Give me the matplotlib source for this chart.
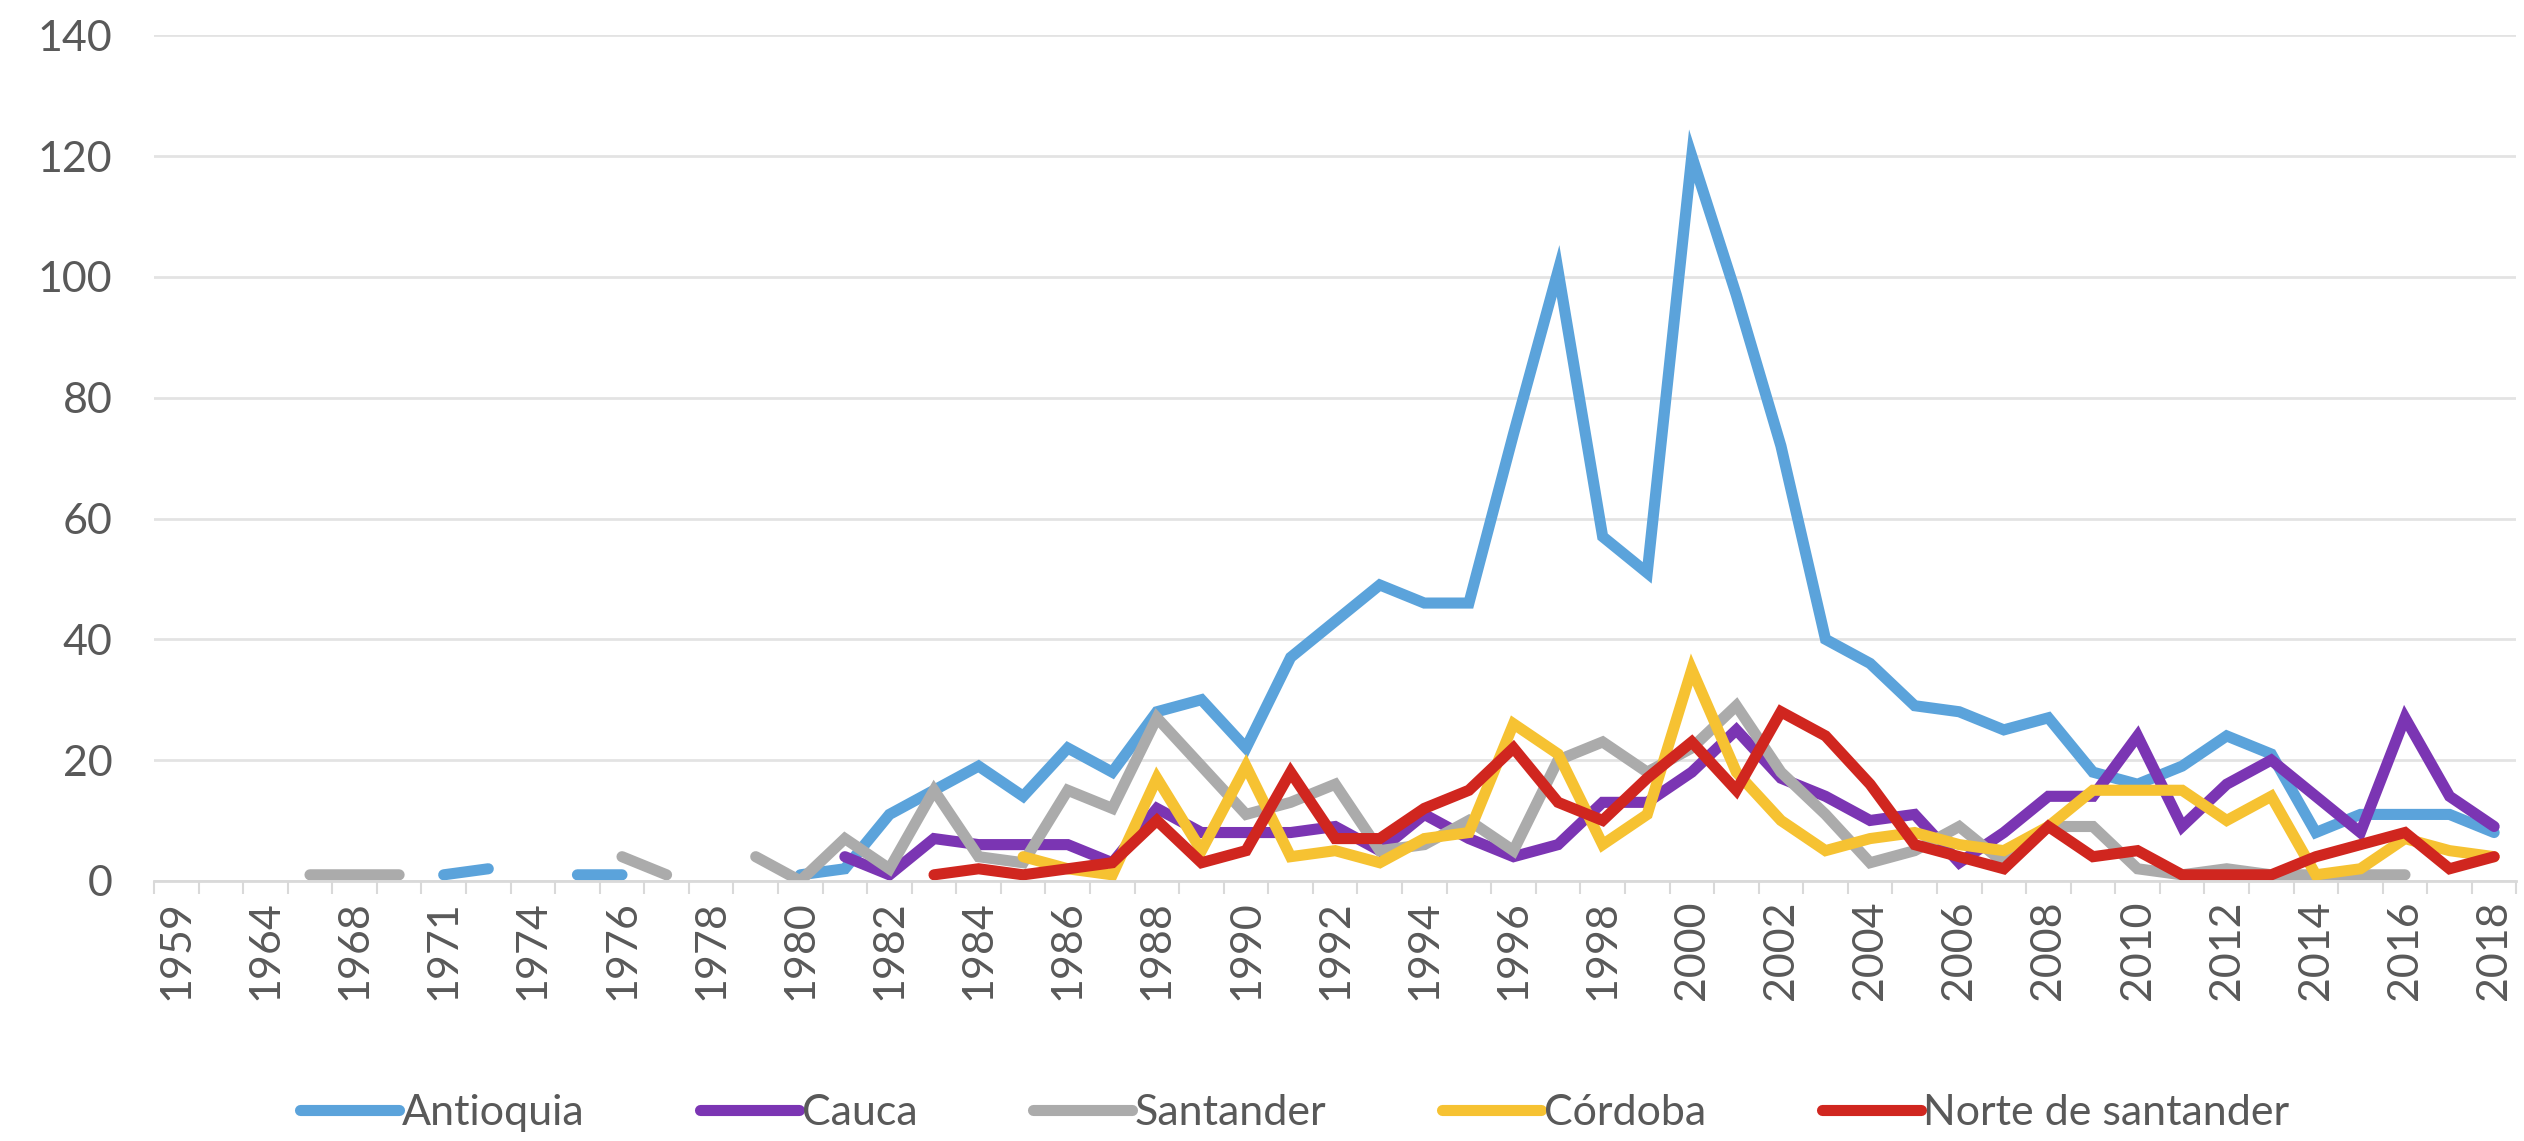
#!/usr/bin/env python3
"""Casos por departamento, 1959-2018 (gráfico de líneas estilo Excel)."""
import numpy as np
import matplotlib
matplotlib.use("Agg")
import matplotlib.pyplot as plt

N = None

# =============================================================================
# Datos
# =============================================================================

years = ["1959", "1962", "1964", "1966", "1968", "1969", "1971", "1972", "1974", "1975",
         "1976", "1977", "1978", "1979", "1980", "1981"] + [str(y) for y in range(1982, 2019)]

antioquia = [N, N, N, N, N, N, 1, 2, N, 1,
             1, N, N, N, 1, 2, 11, 15, 19, 14,
             22, 18, 28, 30, 22, 37, 43, 49, 46, 46,
             74, 101, 57, 51, 120, 97, 72, 40, 36, 29,
             28, 25, 27, 18, 16, 19, 24, 21, 8, 11,
             11, 11, 8]

cauca = [N, N, N, N, N, N, N, N, N, N,
         N, N, N, N, N, 4, 1, 7, 6, 6,
         6, 3, 12, 8, 8, 8, 9, 5, 11, 7,
         4, 6, 13, 13, 18, 25, 17, 14, 10, 11,
         3, 8, 14, 14, 24, 9, 16, 20, 14, 8,
         27, 14, 9]

santander = [N, N, N, 1, 1, 1, N, N, N, N,
             4, 1, N, 4, 0, 7, 2, 15, 4, 3,
             15, 12, 27, 19, 11, 13, 16, 5, 6, 10,
             5, 20, 23, 18, 22, 29, 18, 11, 3, 5,
             9, 3, 9, 9, 2, 1, 2, 1, 1, 1,
             1, N, N]

cordoba = [N, N, N, N, N, N, N, N, N, N,
           N, N, N, N, N, N, N, N, N, 4,
           2, 1, 17, 5, 19, 4, 5, 3, 7, 8,
           26, 21, 6, 11, 35, 18, 10, 5, 7, 8,
           6, 5, 9, 15, 15, 15, 10, 14, 1, 2,
           7, 5, 4]

norte_santander = [N, N, N, N, N, N, N, N, N, N,
                   N, N, N, N, N, N, N, 1, 2, 1,
                   2, 3, 10, 3, 5, 18, 7, 7, 12, 15,
                   22, 13, 10, 17, 23, 15, 28, 24, 16, 6,
                   4, 2, 9, 4, 5, 1, 1, 1, 4, 6,
                   8, 2, 4]

series = [
    ("Antioquia", antioquia, "#5BA3DB"),
    ("Cauca", cauca, "#7B35B3"),
    ("Santander", santander, "#ABABAB"),
    ("Córdoba", cordoba, "#F6C232"),
    ("Norte de santander", norte_santander, "#D0261F"),
]

# =============================================================================
# Gráfico
# =============================================================================

plt.rcParams["font.family"] = ["Lato", "DejaVu Sans"]
TEXT = "#595959"
GRID = "#E3E3E3"

fig = plt.figure(figsize=(25.24, 11.41), dpi=100)
ax = fig.add_axes([0.061, 0.228, 0.936, 0.741])

x = np.arange(len(years))
for name, vals, color in series:
    y = np.array([np.nan if v is None else v for v in vals], dtype=float)
    ax.plot(x, y, color=color, linewidth=8.0, solid_capstyle="round",
            solid_joinstyle="miter", label=name)

ax.set_xlim(-0.5, len(years) - 0.5)
ax.set_ylim(0, 140)
ax.set_yticks(range(0, 141, 20))
ax.grid(axis="y", color=GRID, linewidth=2.0)
ax.set_axisbelow(True)

for side in ["top", "right", "left"]:
    ax.spines[side].set_visible(False)
ax.spines["bottom"].set_color("#D9D9D9")
ax.spines["bottom"].set_linewidth(2.0)

ax.set_xticks(x[::2])
ax.set_xticklabels(years[::2], rotation=90)
ax.set_xticks(np.arange(-0.5, len(years), 1), minor=True)
ax.tick_params(axis="x", which="major", length=0, pad=14, labelsize=31, labelcolor=TEXT)
ax.tick_params(axis="x", which="minor", length=9, width=1.5, color="#D9D9D9")
ax.tick_params(axis="y", length=0, pad=30, labelsize=31, labelcolor=TEXT)

leg = fig.legend(loc="lower center", bbox_to_anchor=(0.513, -0.026), ncol=5,
                 frameon=False, fontsize=31, handlelength=2.3, handletextpad=0.05,
                 columnspacing=2.7)
for t in leg.get_texts():
    t.set_color(TEXT)

fig.savefig("out.png", dpi=100)
